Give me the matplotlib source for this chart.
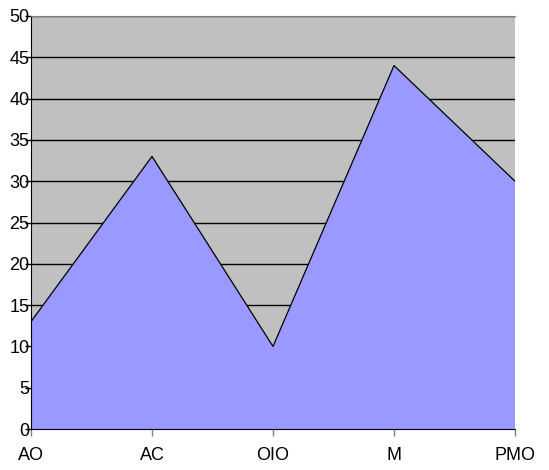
import numpy as np
import matplotlib.pyplot as plt

categories = ['AO', 'AC', 'OIO', 'M', 'PMO']
values = [13, 33, 10, 44, 30]
y_ticks = [0, 5, 10, 15, 20, 25, 30, 35, 40, 45, 50]

plt.rcParams['font.family'] = ['Liberation Sans', 'DejaVu Sans']

fig = plt.figure(figsize=(5.49, 4.70), dpi=100)
ax = fig.add_axes([31/549, 41/470, 484/549, 413/470])
ax.set_facecolor('#C0C0C0')

x = np.arange(len(categories))
ax.fill_between(x, values, 0, facecolor='#9999FF', edgecolor='none', zorder=3)
ax.plot(x, values, color='black', lw=0.9, zorder=4)

ax.set_xlim(0, len(categories) - 1)
ax.set_ylim(0, 50)
ax.set_yticks(y_ticks)
ax.set_xticks(x)
ax.set_xticklabels(categories)
ax.yaxis.grid(True, color='black', lw=1, zorder=1)
ax.set_axisbelow(True)

ax.spines['right'].set_visible(False)
ax.spines['top'].set_color('#808080')
ax.spines['left'].set_color('black')
ax.spines['bottom'].set_color('black')
for s in ['top', 'left', 'bottom']:
    ax.spines[s].set_zorder(5)

ax.tick_params(axis='y', length=4, width=1, pad=-3, labelsize=13)
ax.tick_params(axis='x', length=5, width=1, color='#808080', pad=8, labelsize=13)

fig.savefig('out.png', dpi=100)
